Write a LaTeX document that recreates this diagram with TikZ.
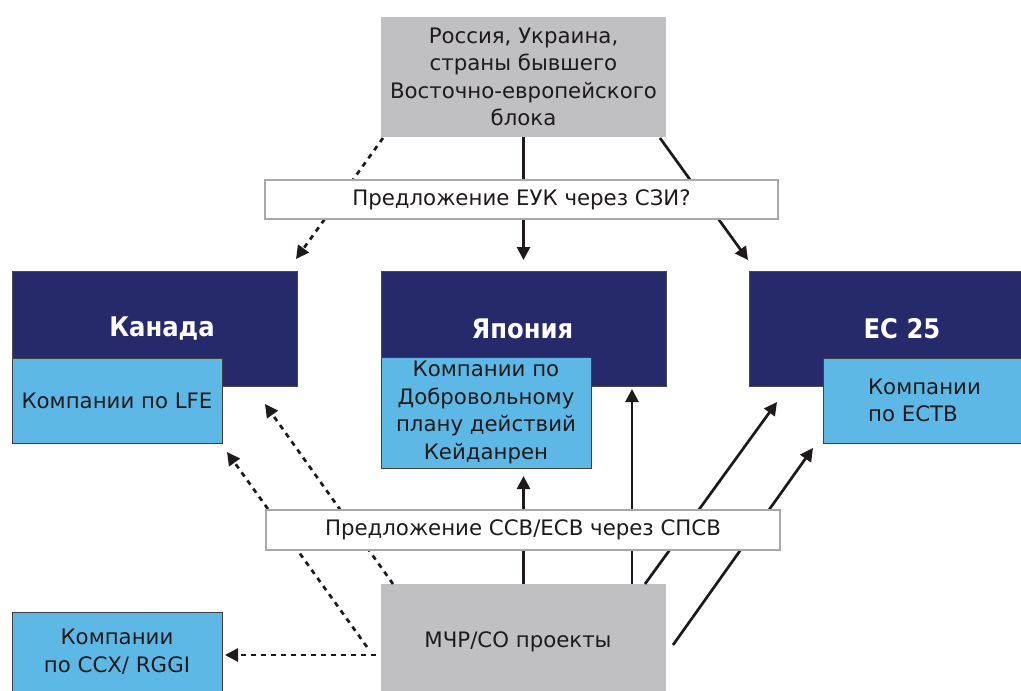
\documentclass[tikz,border=0pt]{standalone}
\usepackage{fontspec}
\setmainfont{DejaVu Sans}
\newfontfamily\regionfont[FakeStretch=0.9]{DejaVu Sans Bold}
\usetikzlibrary{arrows.meta,calc}

\definecolor{navy}{RGB}{38,42,106}
\definecolor{skyb}{RGB}{93,184,230}
\definecolor{greybox}{RGB}{192,192,194}
\definecolor{framegrey}{RGB}{168,168,168}
\definecolor{ink}{RGB}{30,26,27}

\begin{document}
\begin{tikzpicture}[x=1pt,y=-1pt,
  box/.style={anchor=north west, inner sep=0pt, outer sep=0pt, align=center,
    text=ink, font=\fontsize{21.3}{27.5}\selectfont},
  region/.style={box, fill=navy, draw=black!70, line width=0.6pt},
  regionlabel/.style={text=white, font=\regionfont\fontsize{27}{30}\selectfont},
  firms/.style={box, fill=skyb, draw=black!75, line width=0.8pt},
  source/.style={box, fill=greybox},
  offer/.style={box, fill=white, draw=framegrey, line width=2.6pt},
  link/.style={draw=ink, line width=2.7pt, -{Triangle[length=13pt,width=13pt]}},
  dotlink/.style={link, dash pattern=on 5pt off 5pt}
]
\useasboundingbox (0,0) rectangle (1021,691);

% sources of credits
\node[source, minimum width=285, minimum height=120] (east) at (381,17)
  {Россия, Украина,\\страны бывшего\\Восточно-европейского\\блока};
\node[source, minimum width=285, minimum height=107] (cdm) at (381,584) {};
\node at (518,642) [text=ink, font=\fontsize{21.3}{26}\selectfont] {МЧР/СО проекты};

% trading regions
\node[region, minimum width=285, minimum height=115,
  label={[regionlabel, xshift=7.5pt]center:Канада}] (canada) at (12,271) {};
\node[region, minimum width=285, minimum height=115,
  label={[regionlabel, xshift=-1pt]center:Япония}] (japan) at (381,271) {};
\node[region, minimum width=272, minimum height=115,
  label={[regionlabel, xshift=17pt]center:ЕС 25}] (eu) at (749,271) {};

% company schemes
\node[firms, minimum width=210, minimum height=85] (lfe) at (12,358)
  {Компании по LFE};
\node[firms, minimum width=210, minimum height=111] (keid) at (381,357)
  {Компании по\\Добровольному\\плану действий\\Кейданрен};
\node[firms, minimum width=198, minimum height=85, align=left] (ets) at (823,358)
  {\hspace*{5pt}Компании\\\hspace*{5pt}по ЕСТВ};
\node[firms, minimum width=210, minimum height=79] (ccx) at (12,612)
  {Компании\\по ССХ/ RGGI};

% flows from the eastern sellers
\draw[dotlink] ($(east.south west)+(2,1)$) -- ($(canada.north east)+(-1,-12)$);
\draw[link] (east.south) -- ($(japan.north)+(0,-11)$);
\draw[link] ($(east.south east)+(-6,1)$) -- ($(eu.north west)+(-1,-11)$);

% flows from project credits
\draw[dotlink] ($(cdm.north west)+(12,0)$) -- ($(canada.south east)+(-32,18)$);
\draw[dotlink] ($(cdm.west)+(-14,9.5)$) -- ($(lfe.south east)+(5,9)$);
\draw[dotlink] ($(cdm.west)+(-5,17.5)$) -- ($(ccx.east)+(3,3.5)$);
\draw[link] (cdm.north -| east.south) -- ($(keid.south -| east.south)+(0,8)$);
\draw[link] ($(cdm.north east)+(-34,0)$) -- ($(japan.south east)+(-34,3)$);
\draw[link] ($(cdm.north east)+(-21,0)$) -- ($(eu.south west)+(28,16)$);
\draw[link] ($(cdm.east)+(7,7.5)$) -- ($(ets.south west)+(-10,5)$);

% offer channels, laid over the flows
\node[offer, minimum width=513, minimum height=39] (ji) at (265,180)
  {Предложение ЕУК через СЗИ?};
\node[offer, minimum width=514, minimum height=40] (cdmch) at (266,510)
  {Предложение ССВ/ЕСВ через СПСВ};
\end{tikzpicture}
\end{document}
